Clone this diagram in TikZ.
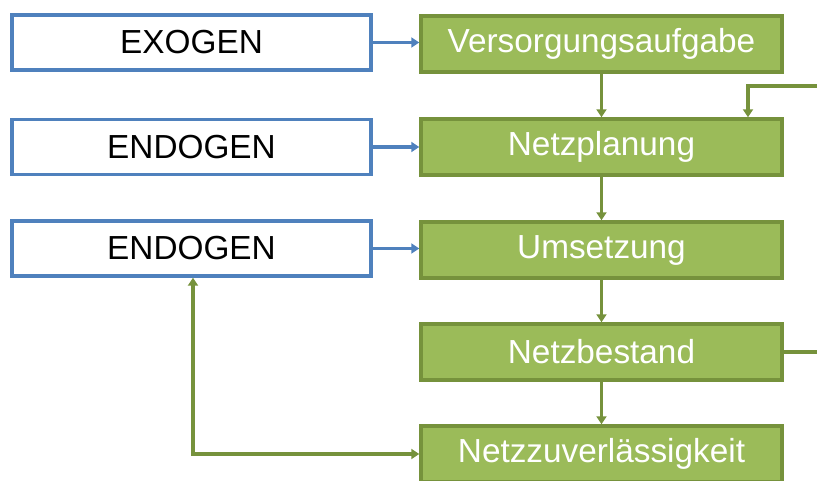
\documentclass[tikz,border=0pt]{standalone}
\usepackage{fontspec}
\setmainfont{Liberation Sans}
\usetikzlibrary{arrows.meta}
\definecolor{bblue}{HTML}{4F81BD}
\definecolor{gfill}{HTML}{9BBB59}
\definecolor{gline}{HTML}{76923C}
\tikzset{tip/.tip={Triangle[length=6pt,width=7.5pt]}}
\begin{document}
\begin{tikzpicture}[x=0.75pt,y=-0.75pt,
  bluebox/.style={draw=bblue,line width=2.6pt,fill=white,minimum width=359*0.75pt,minimum height=55*0.75pt,inner sep=0pt,font=\fontsize{25}{28}\selectfont,text=black},
  greenbox/.style={draw=gline,line width=2.6pt,fill=gfill,minimum width=361*0.75pt,minimum height=56*0.75pt,inner sep=0pt,font=\fontsize{25}{28}\selectfont,text=white},
  barrow/.style={draw=bblue,line width=2.8pt,-tip},
  garrow/.style={draw=gline,line width=2.8pt,-tip},
  gline2/.style={draw=gline,line width=2.8pt,tip-tip}]
\useasboundingbox (0,0) rectangle (817,481);
\node[bluebox] (ex) at (191.5,42.5) {EXOGEN};
\node[bluebox] (en1) at (191.5,147) {ENDOGEN};
\node[bluebox] (en2) at (191.5,248.5) {ENDOGEN};
\node[greenbox] (va) at (601.5,44) {Versorgungsaufgabe};
\node[greenbox] (np) at (601.5,147) {Netzplanung};
\node[greenbox] (um) at (601.5,250) {Umsetzung};
\node[greenbox] (nb) at (601.5,352) {Netzbestand};
\node[greenbox] (nz) at (601.5,454) {Netzzuverlässigkeit};
\draw[barrow] (ex.east) -- (ex.east -| va.west);
\draw[barrow] (en1.east) -- (en1.east -| np.west);
\draw[barrow] (en2.east) -- (en2.east -| um.west);
\draw[garrow] (va.south) -- (np.north);
\draw[garrow] (np.south) -- (um.north);
\draw[garrow] (um.south) -- (nb.north);
\draw[garrow] (nb.south) -- (nz.north);
\coordinate (fb) at (748,86);
\draw[garrow] (nb.east) -- (840,352) |- (fb) -- (fb |- np.north);
\draw[gline2] ([xshift=1.1pt]en2.south) |- (nz.west);
\end{tikzpicture}
\end{document}
